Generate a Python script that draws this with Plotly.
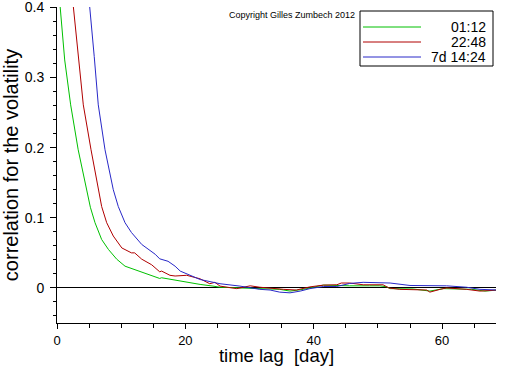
import plotly.graph_objects as go

# ---- data ----
names = ["01:12", "22:48", "7d 14:24"]
colors = ["#00c000", "#b00000", "#2828c8"]

green_lag = [0.2, 0.47, 1.2, 2.13, 3.3, 4.0, 4.62, 5.2, 5.92, 6.96, 8.0, 9.3, 10.6, 12.15, 14.2, 16.0,
             16.3, 18.4, 19.2, 22.3, 24.3, 25.4, 28.5, 31.6, 33.2, 34.7, 36.3, 38.4, 41.5, 43.6,
             45.6, 48.7, 50.3, 51.4, 51.9, 55.5, 58.1, 60.2, 64.6, 66.7, 68.7]
green_val = [0.44, 0.403, 0.325, 0.261, 0.197, 0.165, 0.140, 0.115, 0.093, 0.069, 0.055, 0.041, 0.031,
             0.026, 0.019, 0.0135, 0.0145, 0.011, 0.0097, 0.005, 0.0026, 0.001, 0.0, -0.001, -0.0005,
             -0.002, -0.0045, -0.002, 0.004, 0.003, 0.003, 0.003, 0.003, 0.0015, -0.001, -0.0015,
             -0.0045, -0.001, -0.002, -0.0045, -0.003]

red_lag = [2.0, 2.54, 3.3, 4.1, 5.3, 6.43, 6.8, 6.96, 7.74, 8.77, 10.1, 11.6, 12.1, 13.2, 14.75, 16.0,
           16.3, 17.6, 18.4, 20.2, 22.3, 23.8, 24.6, 25.4, 28.0, 30.1, 31.6, 33.2, 35.3, 37.3, 39.4,
           41.5, 43.6, 44.3, 45.6, 47.7, 50.8, 51.7, 53.4, 57.6, 58.1, 59.7, 60.7, 63.8, 65.9, 68.7]
red_val = [0.45, 0.403, 0.33, 0.261, 0.197, 0.140, 0.126, 0.116, 0.093, 0.074, 0.057, 0.050, 0.050,
           0.041, 0.033, 0.023, 0.024, 0.018, 0.017, 0.018, 0.013, 0.006, 0.008, 0.0026, -0.001, 0.003,
           0.001, -0.0005, -0.002, -0.003, 0.0015, 0.004, 0.0045, 0.007, 0.007, 0.0045, 0.0045, 0.0,
           -0.002, -0.003, -0.006, -0.002, 0.0, -0.002, -0.0045, -0.003]

blue_lag = [4.5, 5.14, 5.8, 6.43, 7.48, 8.77, 9.19, 9.55, 10.6, 11.6, 13.2, 15.3, 16.0, 17.3, 18.4,
            19.2, 22.3, 25.4, 28.5, 31.6, 33.2, 34.7, 36.3, 37.9, 39.4, 41.5, 43.6, 45.6, 47.7, 50.3,
            51.9, 55.0, 60.7, 63.8, 65.9, 68.7]
blue_val = [0.46, 0.40, 0.33, 0.261, 0.197, 0.140, 0.126, 0.116, 0.093, 0.079, 0.062, 0.048, 0.0415,
            0.038, 0.031, 0.024, 0.012, 0.006, 0.0026, -0.002, -0.003, -0.006, -0.007, -0.0045, -0.001,
            0.002, 0.002, 0.0064, 0.008, 0.008, 0.007, 0.0035, 0.003, 0.001, -0.002, -0.003]

series = [(green_lag, green_val), (red_lag, red_val), (blue_lag, blue_val)]

x_ticks = [0, 20, 40, 60]
y_ticks = [0, 0.1, 0.2, 0.3, 0.4]
y_tick_text = ["0", "0.1", "0.2", "0.3", "0.4"]

FONT = "Liberation Sans, Arial, sans-serif"

fig = go.Figure()
for (lx, lv), name, col in zip(series, names, colors):
    fig.add_trace(go.Scatter(x=lx, y=lv, mode="lines", name=name,
                             line=dict(color=col, width=1), showlegend=False, hoverinfo="skip"))

W, H = 512, 366
L, R, T, B = 57, 16, 7, 43

fig.update_layout(
    width=W, height=H,
    margin=dict(l=L, r=R, t=T, b=B),
    paper_bgcolor="white", plot_bgcolor="white",
    font=dict(family=FONT, color="black", size=14),
    xaxis=dict(range=[0, 68.4], showgrid=False, zeroline=False,
               showline=True, linecolor="black", linewidth=1,
               ticks="outside", ticklen=5, tickcolor="black",
               tickvals=x_ticks, ticklabelstandoff=0, tickfont=dict(size=13),
               minor=dict(dtick=5, tick0=0, ticks="outside", ticklen=4, tickcolor="black", showgrid=False),
               title=dict(text="time lag\u00a0 [day]", font=dict(size=18.5), standoff=5),
               automargin=False),
    yaxis=dict(range=[-0.05, 0.4005], showgrid=False,
               zeroline=True, zerolinecolor="black", zerolinewidth=1,
               showline=True, linecolor="black", linewidth=1,
               ticks="outside", ticklen=6, tickcolor="black",
               tickvals=y_ticks, ticktext=y_tick_text, ticklabelstandoff=3,
               ticklabeloverflow="allow",
               minor=dict(dtick=0.02, tick0=0, ticks="outside", ticklen=3, tickcolor="black", showgrid=False),
               title=dict(text="correlation for the volatility", font=dict(size=20), standoff=6),
               automargin=False),
)

# custom legend box and note (paper coordinates derived from pixel layout)
pw, ph = W - L - R, H - T - B
def px(x):
    return (x - L) / pw
def py(y):
    return 1 - (y - T) / ph

fig.add_annotation(x=px(292), y=py(15), xref="paper", yref="paper", text="Copyright Gilles Zumbech 2012",
                   showarrow=False, font=dict(size=9), xanchor="center", yanchor="middle")
fig.add_shape(type="rect", xref="paper", yref="paper", x0=px(360), x1=px(493), y0=py(11), y1=py(66),
              line=dict(color="black", width=1), fillcolor="white", layer="above")
for i, (name, col) in enumerate(zip(names, colors)):
    yy = 27 + 15 * i
    fig.add_shape(type="line", xref="paper", yref="paper", x0=px(363), x1=px(421), y0=py(yy), y1=py(yy),
                  line=dict(color=col, width=1), layer="above")
    fig.add_annotation(x=px(488), y=py(yy), xref="paper", yref="paper", text=name, showarrow=False,
                       xanchor="right", yanchor="middle", font=dict(size=14))

fig.write_html("out.html", config={"displayModeBar": False},
               post_script="document.body.style.margin='0';document.body.style.overflow='hidden';")
